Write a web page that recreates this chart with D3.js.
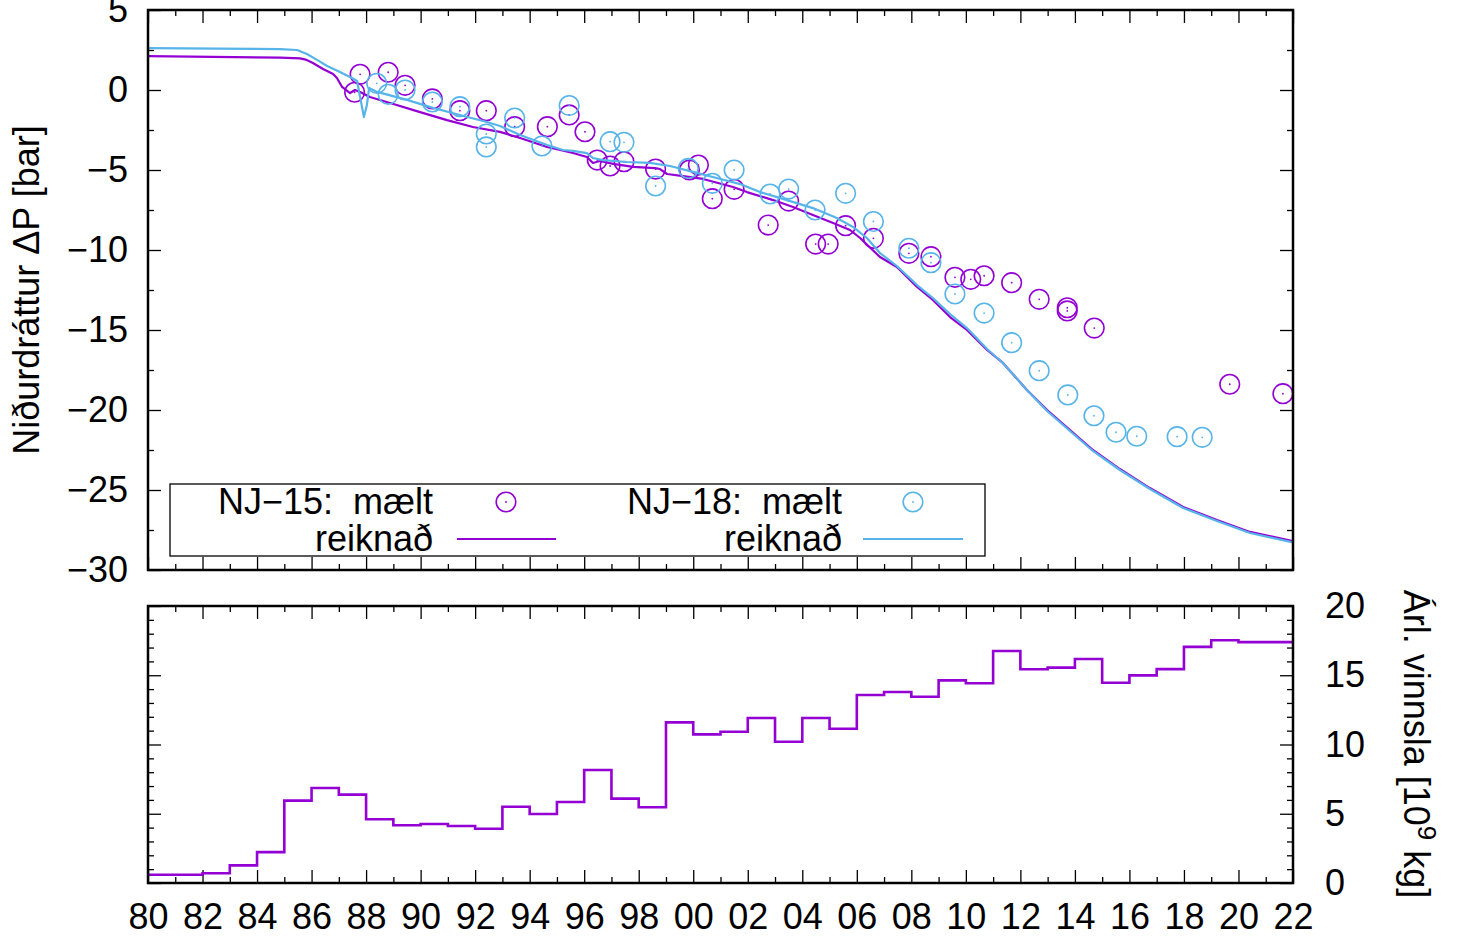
<!DOCTYPE html>
<html>
<head>
<meta charset="utf-8">
<script src="https://cdn.jsdelivr.net/npm/d3@7"></script>
<style>
  body { margin: 0; background: #fff; }
  svg text { font-family: "Liberation Sans", Arial, sans-serif; font-size: 36px; fill: #000; }
  .tick line { stroke: #000; stroke-width: 1.3; }
</style>
</head>
<body>
<svg id="chart" width="1464" height="938"></svg>
<script>
// NJ-15 measured (mælt)
const nj15Years = [1987.58, 1987.78, 1988.81, 1989.43, 1990.43, 1991.44, 1992.41, 1993.45, 1994.65, 1995.45,
  1996.03, 1996.48, 1996.95, 1997.46, 1998.62, 1999.86, 2000.19, 2000.70, 2001.50, 2002.75,
  2003.50, 2004.49, 2004.95, 2005.59, 2006.61, 2007.91, 2008.72, 2009.60, 2010.18, 2010.67,
  2011.68, 2012.69, 2013.72, 2013.72, 2014.71, 2019.68, 2021.63];
const nj15Measured = [-0.14, 0.98, 1.11, 0.29, -0.56, -1.29, -1.29, -2.29, -2.29, -1.56,
  -2.61, -4.38, -4.75, -4.48, -4.94, -5.0, -4.69, -6.79, -6.21, -8.44,
  -6.94, -9.63, -9.63, -8.48, -9.27, -10.21, -10.42, -11.71, -11.83, -11.61,
  -12.04, -13.08, -13.61, -13.81, -14.88, -18.39, -18.98];

// NJ-18 measured (mælt)
const nj18Years = [1988.39, 1988.81, 1989.43, 1990.43, 1991.44, 1992.41, 1992.41, 1993.45, 1994.45, 1995.45,
  1996.95, 1997.46, 1998.62, 1999.82, 2000.70, 2001.50, 2002.82, 2003.50, 2004.47, 2005.59,
  2006.61, 2007.91, 2008.72, 2009.60, 2010.67, 2011.68, 2012.69, 2013.74, 2014.70, 2015.51,
  2016.27, 2017.75, 2018.67];
const nj18Measured = [0.42, -0.27, 0.0, -0.75, -1.04, -2.75, -3.56, -1.75, -3.5, -0.97,
  -3.23, -3.27, -6.0, -4.9, -5.83, -5.0, -6.5, -6.19, -7.5, -6.46,
  -8.22, -9.89, -10.79, -12.75, -13.94, -15.79, -17.54, -19.06, -20.36, -21.39,
  -21.64, -21.67, -21.71];

// NJ-15 calculated (reiknað)
const nj15CalcYears = [1980, 1984.84, 1985.58, 1985.82, 1986.05, 1986.42, 1986.79, 1986.93, 1987.12, 1987.41,
  1987.59, 1987.78, 1988.14, 1988.88, 1989.98, 1990.97, 1991.92, 1992.91, 1993.65, 1994.64,
  1995.59, 1996.10, 1996.32, 1996.58, 1997.06, 1997.79, 1998.60, 1998.78, 1999.04, 1999.63,
  2000.36, 2001.46, 2001.97, 2002.93, 2003.66, 2004.39, 2005.13, 2005.75, 2006.12, 2006.85,
  2007.47, 2008.21, 2008.79, 2009.42, 2010.04, 2010.78, 2011.36, 2012.24, 2012.98, 2013.82,
  2014.66, 2015.65, 2016.75, 2017.97, 2019.21, 2020.42, 2022.0];
const nj15CalcValues = [2.12, 2.02, 1.98, 1.88, 1.69, 1.31, 1.0, 0.75, 0.19, -0.19,
  0.0, -0.12, -0.44, -0.81, -1.38, -1.88, -2.31, -2.62, -3.0, -3.56,
  -3.94, -4.19, -4.56, -4.44, -4.62, -4.81, -4.88, -4.94, -5.25, -5.38,
  -5.56, -6.06, -6.38, -6.88, -7.31, -7.81, -8.31, -8.75, -9.25, -10.44,
  -11.06, -12.31, -13.12, -14.19, -15.0, -16.25, -17.06, -18.75, -20.0, -21.25,
  -22.5, -23.69, -24.88, -26.06, -26.88, -27.62, -28.19];

// NJ-18 calculated (reiknað)
const nj18CalcYears = [1980, 1984.84, 1985.47, 1985.83, 1986.20, 1986.57, 1987.04, 1987.48, 1987.67, 1987.78,
  1987.92, 1988.03, 1988.11, 1988.40, 1989.50, 1990.45, 1991.44, 1992.43, 1992.91, 1993.65,
  1994.64, 1995.22, 1995.59, 1996.10, 1996.32, 1996.69, 1997.57, 1998.41, 1999.15, 1999.99,
  2000.72, 2001.72, 2002.45, 2003.44, 2004.39, 2005.27, 2005.86, 2006.37, 2006.85, 2007.47,
  2008.21, 2008.79, 2009.42, 2010.04, 2010.78, 2011.36, 2012.24, 2012.98, 2013.82, 2014.66,
  2015.65, 2016.75, 2017.97, 2019.21, 2020.42, 2022.0];
const nj18CalcValues = [2.62, 2.56, 2.5, 2.25, 1.88, 1.5, 1.12, 0.75, 0.56, -0.44,
  -1.69, -0.94, 0.12, -0.12, -0.62, -1.12, -1.56, -2.0, -2.25, -2.81,
  -3.44, -3.75, -3.81, -3.94, -4.25, -4.38, -4.5, -4.56, -4.75, -5.12,
  -5.44, -5.88, -6.38, -6.88, -7.38, -8.0, -8.56, -9.25, -10.19, -11.0,
  -12.19, -13.0, -14.0, -14.88, -16.19, -17.06, -18.75, -20.06, -21.31, -22.56,
  -23.75, -24.94, -26.12, -26.94, -27.69, -28.28];

// Annual production (Árl. vinnsla) [10^9 kg]
const prodYears = d3.range(1980, 2022);
const prodValues = [0.6, 0.6, 0.7, 1.27, 2.23, 5.95, 6.86, 6.38, 4.6, 4.17,
  4.26, 4.12, 3.92, 5.51, 4.98, 5.85, 8.16, 6.09, 5.47, 11.6,
  10.73, 10.92, 11.91, 10.2, 11.91, 11.14, 13.57, 13.79, 13.45, 14.63,
  14.42, 16.75, 15.43, 15.55, 16.17, 14.46, 14.99, 15.44, 17.05, 17.53,
  17.39, 17.39];

// tick values
const yearMajorTicks = d3.range(1980, 2023, 2);
const yearMinorTicks = d3.range(1981, 2022, 2);
const pressureTicks = [-30, -25, -20, -15, -10, -5, 0, 5];
const pressureMinorTicks = [-27.5, -22.5, -17.5, -12.5, -7.5, -2.5, 2.5];
const prodTicks = [0, 5, 10, 15, 20];
const prodMinorTicks = [1, 2, 3, 4, 6, 7, 8, 9, 11, 12, 13, 14, 16, 17, 18, 19];

const PURPLE = "#9400d3";
const BLUE = "#56b4e9";

const LEFT = 148, RIGHT = 1293;
const TOP_Y0 = 10, TOP_Y1 = 570;
const BOT_Y0 = 606, BOT_Y1 = 883;
const MAJOR = 13, MINOR = 6;

const svg = d3.select("#chart");

const x = d3.scaleLinear().domain([1980, 2022]).range([LEFT, RIGHT]);
const yTop = d3.scaleLinear().domain([-30, 5]).range([TOP_Y1, TOP_Y0]);
const yBot = d3.scaleLinear().domain([0, 20]).range([BOT_Y1, BOT_Y0]);

const yearFormat = (d) => String(d % 100).padStart(2, "0");
const numFormat = d3.format("d");

function addAxis(axis, tx, ty, noLabels) {
  const g = svg.append("g").attr("transform", `translate(${tx},${ty})`).call(axis);
  g.select(".domain").remove();
  if (noLabels) g.selectAll("text").remove();
  return g;
}

// ---- top panel ticks ----
addAxis(d3.axisTop(x).tickValues(yearMajorTicks).tickSize(-MAJOR), 0, TOP_Y0, true);
addAxis(d3.axisTop(x).tickValues(yearMinorTicks).tickSize(-MINOR), 0, TOP_Y0, true);
addAxis(d3.axisBottom(x).tickValues(yearMajorTicks).tickSize(-MAJOR), 0, TOP_Y1, true);
addAxis(d3.axisBottom(x).tickValues(yearMinorTicks).tickSize(-MINOR), 0, TOP_Y1, true);
addAxis(d3.axisLeft(yTop).tickValues(pressureTicks).tickSize(-MAJOR).tickPadding(20).tickFormat(numFormat), LEFT, 0, false);
addAxis(d3.axisLeft(yTop).tickValues(pressureMinorTicks).tickSize(-MINOR), LEFT, 0, true);
addAxis(d3.axisRight(yTop).tickValues(pressureTicks).tickSize(-MAJOR), RIGHT, 0, true);
addAxis(d3.axisRight(yTop).tickValues(pressureMinorTicks).tickSize(-MINOR), RIGHT, 0, true);

// ---- bottom panel ticks ----
addAxis(d3.axisTop(x).tickValues(yearMajorTicks).tickSize(-MAJOR), 0, BOT_Y0, true);
addAxis(d3.axisTop(x).tickValues(yearMinorTicks).tickSize(-MINOR), 0, BOT_Y0, true);
addAxis(d3.axisBottom(x).tickValues(yearMajorTicks).tickSize(-MAJOR).tickPadding(20).tickFormat(yearFormat), 0, BOT_Y1, false);
addAxis(d3.axisBottom(x).tickValues(yearMinorTicks).tickSize(-MINOR), 0, BOT_Y1, true);
addAxis(d3.axisLeft(yBot).tickValues(prodTicks).tickSize(-MAJOR), LEFT, 0, true);
addAxis(d3.axisLeft(yBot).tickValues(prodMinorTicks).tickSize(-MINOR), LEFT, 0, true);
addAxis(d3.axisRight(yBot).tickValues(prodTicks).tickSize(-MAJOR).tickPadding(32).tickFormat(numFormat), RIGHT, 0, false);
addAxis(d3.axisRight(yBot).tickValues(prodMinorTicks).tickSize(-MINOR), RIGHT, 0, true);

svg.selectAll(".tick text").attr("font-size", 36).attr("font-family", null);

// ---- clip paths ----
const defs = svg.append("defs");
defs.append("clipPath").attr("id", "clip-top").append("rect")
  .attr("x", LEFT).attr("y", TOP_Y0).attr("width", RIGHT - LEFT).attr("height", TOP_Y1 - TOP_Y0);
defs.append("clipPath").attr("id", "clip-bot").append("rect")
  .attr("x", LEFT).attr("y", BOT_Y0).attr("width", RIGHT - LEFT).attr("height", BOT_Y1 - BOT_Y0);

// ---- top panel data ----
const topPlot = svg.append("g").attr("clip-path", "url(#clip-top)");
const line = d3.line().x((d) => x(d[0])).y((d) => yTop(d[1]));

function drawPoints(years, values, color) {
  const pts = d3.zip(years, values);
  const g = topPlot.append("g");
  g.selectAll("circle.ring").data(pts).enter().append("circle")
    .attr("class", "ring")
    .attr("cx", (d) => x(d[0])).attr("cy", (d) => yTop(d[1])).attr("r", 9.8)
    .attr("fill", "none").attr("stroke", color).attr("stroke-width", 1.6);
  g.selectAll("circle.dot").data(pts).enter().append("circle")
    .attr("class", "dot")
    .attr("cx", (d) => x(d[0])).attr("cy", (d) => yTop(d[1])).attr("r", 0.9)
    .attr("fill", color);
}

function drawLine(years, values, color) {
  topPlot.append("path")
    .datum(d3.zip(years, values))
    .attr("d", line)
    .attr("fill", "none").attr("stroke", color).attr("stroke-width", 2.2)
    .attr("stroke-linejoin", "round");
}

drawPoints(nj15Years, nj15Measured, PURPLE);
drawLine(nj15CalcYears, nj15CalcValues, PURPLE);
drawPoints(nj18Years, nj18Measured, BLUE);
drawLine(nj18CalcYears, nj18CalcValues, BLUE);

// ---- bottom panel step line ----
const stepData = d3.zip(prodYears, prodValues);
stepData.push([2022, prodValues[prodValues.length - 1]]);
svg.append("g").attr("clip-path", "url(#clip-bot)")
  .append("path")
  .datum(stepData)
  .attr("d", d3.line().curve(d3.curveStepAfter).x((d) => x(d[0])).y((d) => yBot(d[1])))
  .attr("fill", "none").attr("stroke", PURPLE).attr("stroke-width", 2.6);

// ---- frames ----
svg.append("rect").attr("x", LEFT).attr("y", TOP_Y0).attr("width", RIGHT - LEFT).attr("height", TOP_Y1 - TOP_Y0)
  .attr("fill", "none").attr("stroke", "#000").attr("stroke-width", 2.5);
svg.append("rect").attr("x", LEFT).attr("y", BOT_Y0).attr("width", RIGHT - LEFT).attr("height", BOT_Y1 - BOT_Y0)
  .attr("fill", "none").attr("stroke", "#000").attr("stroke-width", 2.5);

// ---- legend ----
const legend = svg.append("g");
legend.append("rect").attr("x", 170).attr("y", 484).attr("width", 815).attr("height", 72)
  .attr("fill", "none").attr("stroke", "#000").attr("stroke-width", 1.3);

const legendItems = [
  { name: "NJ\u221215:  mælt", textX: 433, sampleX: 506, lineX: [457, 556], color: PURPLE },
  { name: "NJ\u221218:  mælt", textX: 842, sampleX: 913, lineX: [863, 963], color: BLUE }
];
legendItems.forEach((item) => {
  legend.append("text").attr("x", item.textX).attr("y", 514).attr("text-anchor", "end")
    .style("white-space", "pre").text(item.name);
  legend.append("circle").attr("cx", item.sampleX).attr("cy", 502).attr("r", 9.8)
    .attr("fill", "none").attr("stroke", item.color).attr("stroke-width", 1.6);
  legend.append("circle").attr("cx", item.sampleX).attr("cy", 502).attr("r", 0.9).attr("fill", item.color);
  legend.append("text").attr("x", item.textX).attr("y", 551).attr("text-anchor", "end").text("reiknað");
  legend.append("line").attr("x1", item.lineX[0]).attr("x2", item.lineX[1]).attr("y1", 539).attr("y2", 539)
    .attr("stroke", item.color).attr("stroke-width", 2.2);
});

// ---- axis titles ----
svg.append("text")
  .attr("transform", "translate(39,290) rotate(-90)")
  .attr("text-anchor", "middle")
  .text("Niðurdráttur ΔP [bar]");

const rightTitle = svg.append("text")
  .attr("transform", "translate(1404,744) rotate(90)")
  .attr("text-anchor", "middle")
  .attr("font-size", 37);
rightTitle.append("tspan").text("Árl. vinnsla [10");
rightTitle.append("tspan").attr("dy", -14).attr("font-size", 26).text("9");
rightTitle.append("tspan").attr("dy", 14).text(" kg]");
</script>
</body>
</html>
